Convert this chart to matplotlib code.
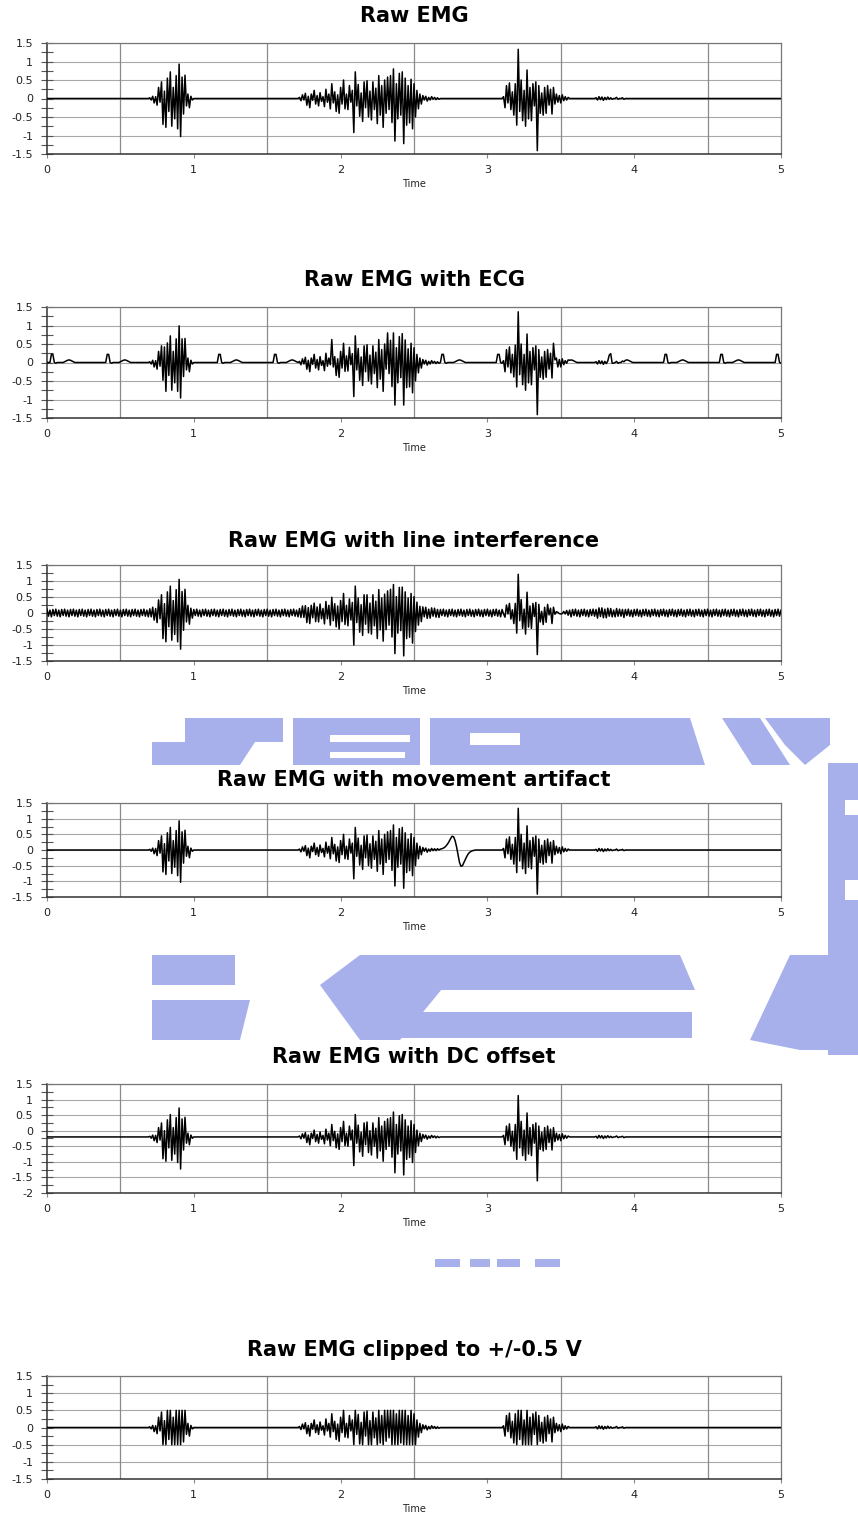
import numpy as np
import matplotlib.pyplot as plt
from matplotlib.patches import Polygon

plt.rcParams['font.family'] = 'DejaVu Sans'
plt.rcParams['axes.unicode_minus'] = False

# sampling of the recordings
dt = 0.01
t = np.round(np.arange(0, 5 + dt / 2, dt), 2)

# EMG bursts, one value per 10 ms, each starting at burst_starts[k]
burst_starts = [0.70, 1.72, 3.11, 3.74]
burst1 = [0.02, -0.04, 0.06, -0.12, 0.05, -0.18, 0.30, -0.10, 0.45, -0.70,
          0.20, -0.78, 0.55, -0.35, 0.72, -0.75, 0.30, -0.55, 0.62, -0.82,
          0.93, -1.03, 0.58, -0.42, 0.63, -0.20, 0.12, -0.25, 0.06, -0.04]
burst2 = [0.03, -0.06, 0.10, -0.04, 0.14, -0.18, 0.06, -0.25, 0.12, -0.05,
          0.22, -0.15, 0.08, -0.20, 0.16, -0.08, 0.05, -0.22, 0.25, -0.10,
          0.12, -0.28, 0.40, -0.12, 0.18, -0.35, 0.10, -0.40, 0.30, -0.15,
          0.50, -0.28, 0.12, -0.30, 0.35, -0.10, 0.22, -0.92, 0.72, -0.20,
          0.38, -0.48, 0.15, -0.62, 0.45, -0.25, 0.48, -0.50, 0.20, -0.58,
          0.45, -0.30, 0.28, -0.68, 0.62, -0.45, 0.35, -0.78, 0.50, -0.40,
          0.58, -0.30, 0.62, -0.65, 0.80, -1.15, 0.40, -0.55, 0.68, -0.45,
          0.72, -1.22, 0.55, -0.72, 0.35, -0.66, 0.52, -0.82, 0.40, -0.50,
          0.22, -0.28, 0.12, -0.15, 0.08, -0.04, 0.06, -0.07, 0.03, -0.04,
          0.05, -0.02, 0.03, -0.03, 0.02, -0.02]
burst3 = [0.05, -0.25, 0.35, -0.12, 0.42, -0.30, 0.18, -0.45, 0.40, -0.72,
          1.33, -0.35, 0.50, -0.60, 0.22, -0.75, 0.77, -0.55, 0.30, -0.60,
          0.40, -0.20, 0.45, -1.41, 0.35, -0.40, 0.15, -0.45, 0.30, -0.40,
          0.35, -0.18, 0.25, -0.42, 0.30, -0.15, 0.12, -0.10, 0.08, -0.12,
          0.10, -0.06, 0.05, -0.04, 0.03]
weak_activity = [0.02, -0.04, 0.05, -0.03, 0.04, -0.05, 0.03, -0.03, 0.04, -0.02,
                 0.02, -0.02, 0.0, 0.0, 0.03, -0.02, 0.0, 0.0, 0.02, -0.02]

# ECG beats (R peak times) and one beat sampled from 10 ms before the R peak
ecg_beats = [0.03, 0.41, 0.79, 1.17, 1.55, 1.93, 2.31, 2.69, 3.07, 3.45,
             3.83, 4.21, 4.59, 4.97]
ecg_shape = [0.0, 0.22, 0.22, 0.0, -0.02, 0.0, 0.0, 0.0, 0.0, 0.0,
             0.02, 0.04, 0.06, 0.07, 0.06, 0.04, 0.02, 0.0]

# mains hum, repeated over the whole record
hum_cycle = [0.12, -0.10, 0.09, -0.12, 0.11, -0.08]

# movement artifact
artifact_start = 2.63
artifact = [0.0, 0.01, 0.01, 0.02, 0.02, 0.03, 0.04, 0.06, 0.09, 0.14,
            0.20, 0.28, 0.37, 0.44, 0.42, 0.30, 0.10, -0.15, -0.40, -0.52,
            -0.50, -0.40, -0.30, -0.20, -0.12, -0.07, -0.04, -0.02, -0.01, 0.0]

dc_offset = -0.2
clip_level = 0.5

titles = ['Raw EMG', 'Raw EMG with ECG', 'Raw EMG with line interference',
          'Raw EMG with movement artifact', 'Raw EMG with DC offset',
          'Raw EMG clipped to +/-0.5 V']
y_limits = [(-1.5, 1.5), (-1.5, 1.5), (-1.5, 1.5), (-1.5, 1.5), (-2.0, 1.5), (-1.5, 1.5)]

# build the signals
emg = np.zeros_like(t)
for start, seg in zip(burst_starts, [burst1, burst2, burst3, weak_activity]):
    i = int(round(start / dt))
    emg[i:i + len(seg)] = seg

ecg = np.zeros_like(t)
for beat in ecg_beats:
    i = int(round(beat / dt)) - 1
    seg = ecg_shape[:len(t) - i]
    ecg[i:i + len(seg)] += seg

hum = np.resize(np.array(hum_cycle), len(t))

move = np.zeros_like(t)
i = int(round(artifact_start / dt))
move[i:i + len(artifact)] = artifact

signals = [emg, emg + ecg, emg + hum, emg + move, emg + dc_offset,
           np.clip(emg, -clip_level, clip_level)]

# page layout in pixels: (axes top, axes bottom, title centre)
W, H = 858, 1515
layout = [(43, 154, 16), (307, 418, 280), (565, 661, 541),
          (803, 897, 780), (1084, 1193, 1057), (1376, 1479, 1350)]
ax_left, ax_right = 47, 781

fig = plt.figure(figsize=(W / 100, H / 100), dpi=100)

# blue watermark behind the charts
bg = fig.add_axes([0, 0, 1, 1], zorder=-5)
bg.set_xlim(0, W)
bg.set_ylim(H, 0)
bg.axis('off')
wm_blocks = [
    [(185, 718), (283, 718), (283, 742), (185, 742)],
    [(152, 742), (255, 742), (240, 765), (152, 765)],
    [(293, 718), (420, 718), (420, 765), (293, 765)],
    [(430, 718), (545, 718), (545, 765), (430, 765)],
    [(545, 718), (690, 718), (705, 765), (545, 765)],
    [(722, 718), (760, 718), (790, 765), (752, 765)],
    [(765, 718), (830, 718), (830, 745), (805, 765), (785, 745)],
    [(828, 763), (858, 763), (858, 1055), (828, 1055)],
    [(152, 955), (235, 955), (235, 985), (152, 985)],
    [(152, 1000), (250, 1000), (240, 1040), (152, 1040)],
    [(320, 985), (360, 955), (470, 955), (400, 1040), (360, 1040)],
    [(460, 955), (680, 955), (695, 990), (440, 990)],
    [(400, 1012), (692, 1012), (692, 1038), (390, 1038)],
    [(750, 1040), (790, 955), (858, 955), (858, 1050), (800, 1050)],
    [(435, 1259), (460, 1259), (460, 1267), (435, 1267)],
    [(470, 1259), (490, 1259), (490, 1267), (470, 1267)],
    [(497, 1259), (520, 1259), (520, 1267), (497, 1267)],
    [(535, 1259), (560, 1259), (560, 1267), (535, 1267)],
]
wm_holes = [
    [(330, 735), (410, 735), (410, 742), (330, 742)],
    [(330, 752), (405, 752), (405, 758), (330, 758)],
    [(470, 733), (520, 733), (520, 745), (470, 745)],
    [(845, 800), (858, 800), (858, 815), (845, 815)],
    [(845, 880), (858, 880), (858, 900), (845, 900)],
    [(180, 985), (235, 985), (235, 1000), (180, 1000)],
]
for pts in wm_blocks:
    bg.add_patch(Polygon(pts, closed=True, facecolor='#a8b0ec', edgecolor='none'))
for pts in wm_holes:
    bg.add_patch(Polygon(pts, closed=True, facecolor='white', edgecolor='none'))

half_steps = [0.5, 1.5, 2.5, 3.5, 4.5]

for sig, title, (lo, hi), (top, bottom, title_y) in zip(signals, titles, y_limits, layout):
    ax = fig.add_axes([ax_left / W, 1 - bottom / H,
                       (ax_right - ax_left) / W, (bottom - top) / H])
    ax.set_facecolor('white')
    ax.plot(t, sig, color='black', lw=1.1, zorder=3)
    ax.set_xlim(0, 5)
    ax.set_ylim(lo, hi)

    ax.set_xticks(range(6))
    ax.set_xticklabels([str(v) for v in range(6)])
    yt = np.arange(lo, hi + 0.01, 0.5)
    ax.set_yticks(yt)
    ax.set_yticklabels([f'{v:g}' for v in yt])
    ax.set_yticks(np.arange(lo, hi + 0.01, 0.25), minor=True)

    ax.grid(axis='y', which='major', color='#a8a8a8', lw=0.8)
    for x in half_steps:
        ax.axvline(x, color='#8a8a8a', lw=0.9, zorder=1)
    ax.set_axisbelow(True)

    ax.tick_params(axis='y', which='both', direction='inout', length=8,
                   width=0.8, color='#555555', labelsize=8, labelcolor='#222222', pad=6)
    ax.tick_params(axis='x', direction='out', length=3, width=0.8,
                   color='#888888', labelsize=8, labelcolor='#222222', pad=5)
    for side in ['top', 'right']:
        ax.spines[side].set_color('#777777')
        ax.spines[side].set_linewidth(0.9)
    for side in ['left', 'bottom']:
        ax.spines[side].set_color('#333333')
        ax.spines[side].set_linewidth(1.1)

    cx = (ax_left + ax_right) / 2 / W
    fig.text(cx, 1 - title_y / H, title, ha='center', va='center',
             fontsize=15, fontweight='bold', color='black')
    fig.text(cx, 1 - (bottom + 30) / H, 'Time', ha='center', va='center',
             fontsize=7, color='#222222')

fig.savefig('out.png', dpi=100)
